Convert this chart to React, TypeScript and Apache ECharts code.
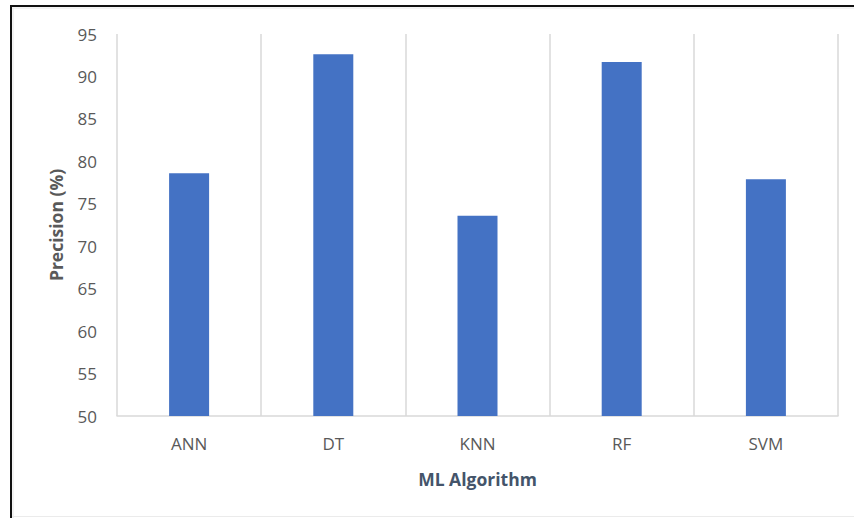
import React, { useEffect, useRef } from "react";
import * as echarts from "echarts";

const categories = ["ANN", "DT", "KNN", "RF", "SVM"];
const precision = [78.6, 92.6, 73.6, 91.7, 77.9];
const yMin = 50;
const yMax = 95;
const yStep = 5;

export default function App() {
  const ref = useRef<HTMLDivElement>(null);
  useEffect(() => {
    if (!ref.current) return;
    const chart = echarts.init(ref.current, undefined, { renderer: "svg" });
    const font = "'Open Sans', 'Noto Sans', sans-serif";
    chart.setOption({
      animation: false,
      backgroundColor: "#ffffff",
      grid: { left: 117, right: 16, top: 34, bottom: 102 },
      xAxis: {
        type: "category",
        data: categories,
        name: "ML Algorithm",
        nameLocation: "middle",
        nameGap: 54,
        nameTextStyle: { fontFamily: font, fontSize: 17.5, fontWeight: "bold", color: "#44546a" },
        axisLine: { show: true, lineStyle: { color: "#d9d9d9", width: 1.5 } },
        axisTick: { show: false },
        axisLabel: { fontFamily: font, fontSize: 17, color: "#595959", margin: 19 },
        splitLine: { show: true, lineStyle: { color: "#d9d9d9", width: 1.5 } },
      },
      yAxis: {
        type: "value",
        min: yMin,
        max: yMax,
        interval: yStep,
        name: "Precision (%)",
        nameLocation: "middle",
        nameRotate: 90,
        nameGap: 52,
        nameTextStyle: { fontFamily: font, fontSize: 17.5, fontWeight: "bold", color: "#595959" },
        axisLine: { show: false },
        axisTick: { show: false },
        splitLine: { show: false },
        axisLabel: { fontFamily: font, fontSize: 17, color: "#595959", margin: 20 },
      },
      series: [
        {
          type: "bar",
          data: precision,
          barWidth: 40,
          itemStyle: { color: "#4472c4" },
        },
      ],
      graphic: [
        { type: "line", shape: { x1: 10, y1: 6, x2: 854, y2: 6 }, style: { stroke: "#111111", lineWidth: 2 } },
        { type: "line", shape: { x1: 11, y1: 5, x2: 11, y2: 518 }, style: { stroke: "#111111", lineWidth: 2 } },
        { type: "line", shape: { x1: 12, y1: 8, x2: 854, y2: 8 }, style: { stroke: "#e6e6e6", lineWidth: 1 } },
        { type: "line", shape: { x1: 13, y1: 8, x2: 13, y2: 518 }, style: { stroke: "#e6e6e6", lineWidth: 1 } },
        { type: "line", shape: { x1: 12, y1: 516.5, x2: 854, y2: 516.5 }, style: { stroke: "#ebebeb", lineWidth: 1 } },
      ],
    });
    return () => chart.dispose();
  }, []);
  return (
    <div
      ref={ref}
      style={{ position: "fixed", left: 0, top: 0, width: 854, height: 518 }}
    />
  );
}
